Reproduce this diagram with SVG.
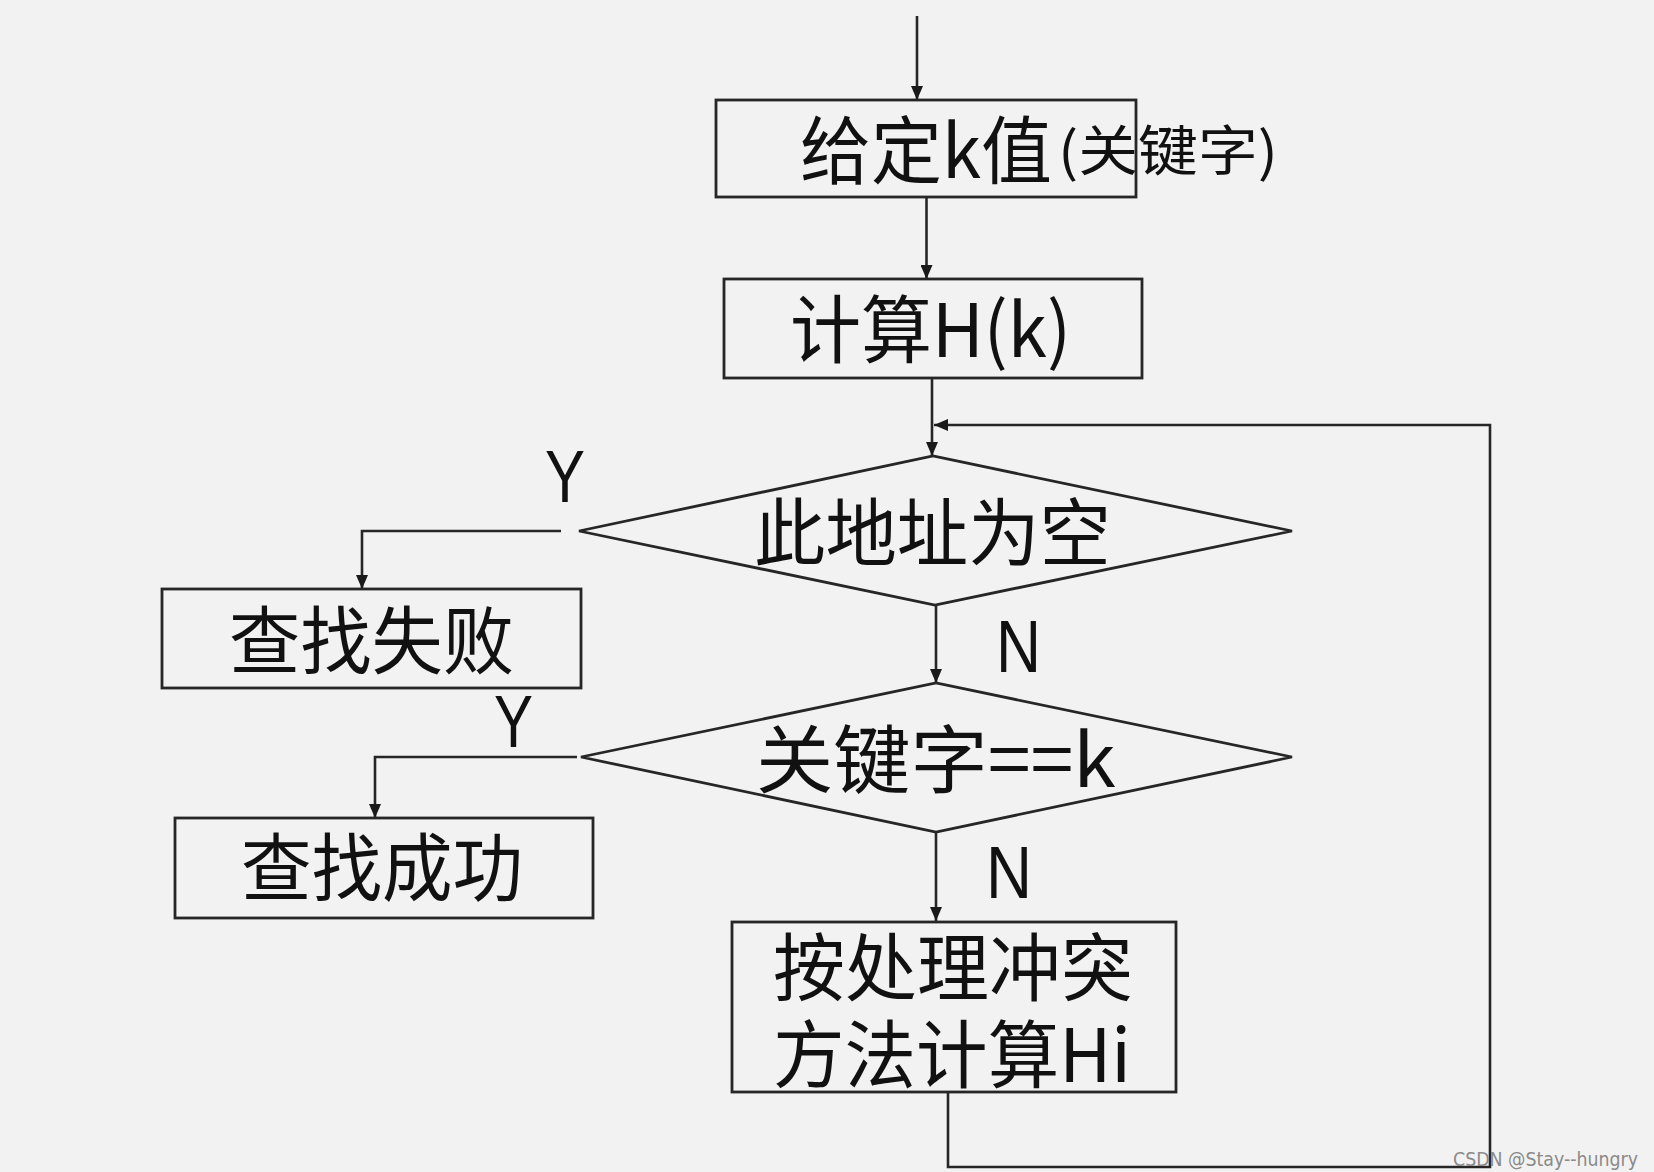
<svg xmlns="http://www.w3.org/2000/svg" width="1654" height="1172" viewBox="0 0 1654 1172">
  <style>
    .box { fill: none; stroke: #262626; stroke-width: 2.8; }
    .dia { fill: none; stroke: #262626; stroke-width: 2.8; stroke-linejoin: miter; }
    .wire { fill: none; stroke: #262626; stroke-width: 2.6; }
    .arr { marker-end: url(#head); }
    .cjk { font-family: "Noto Sans CJK SC", "Noto Sans", sans-serif; font-size: 74px; fill: #111; }
    .note { font-family: "Noto Sans CJK SC", sans-serif; font-size: 54px; fill: #111; }
    .yn { font-family: "Liberation Sans", Arial, sans-serif; font-size: 75px; fill: #111; }
    .mark { font-family: "DejaVu Sans", sans-serif; font-size: 19px; fill: #8a8a8a; }
  </style>
  <defs>
    <marker id="head" viewBox="0 0 14 12" refX="14" refY="6" markerWidth="14" markerHeight="12" markerUnits="userSpaceOnUse" orient="auto">
      <path d="M0,0 L14,6 L0,12 Z" fill="#1a1a1a"/>
    </marker>
  </defs>

  <rect width="1654" height="1172" fill="#f2f2f2"/>

  <!-- connectors -->
  <g id="connectors">
    <line class="wire arr" x1="917" y1="16" x2="917" y2="100"/>
    <line class="wire arr" x1="926.5" y1="197" x2="926.5" y2="279"/>
    <line class="wire arr" x1="932" y1="378" x2="932" y2="456"/>
    <polyline class="wire arr" points="948,1092 948,1167 1490,1167 1490,425 934,425"/>
    <polyline class="wire arr" points="561,531 362,531 362,589"/>
    <line class="wire arr" x1="936" y1="605" x2="936" y2="683"/>
    <polyline class="wire arr" points="577,757 375,757 375,818"/>
    <line class="wire arr" x1="936" y1="832" x2="936" y2="921"/>
  </g>

  <!-- branch labels -->
  <g id="labels">
    <text class="yn" x="545" y="502" textLength="40" lengthAdjust="spacingAndGlyphs">Y</text>
    <text class="yn" x="494" y="747" textLength="39" lengthAdjust="spacingAndGlyphs">Y</text>
    <text class="yn" x="996" y="672" textLength="45" lengthAdjust="spacingAndGlyphs">N</text>
    <text class="yn" x="986" y="898" textLength="46" lengthAdjust="spacingAndGlyphs">N</text>
  </g>

  <g id="n-input">
    <rect class="box" x="716" y="100" width="420" height="97"/>
    <text class="cjk" x="800" y="178" textLength="252" lengthAdjust="spacingAndGlyphs">给定k值</text>
    <text class="note" x="1058" y="171" textLength="220" lengthAdjust="spacingAndGlyphs">(关键字)</text>
  </g>

  <g id="n-hash">
    <rect class="box" x="724" y="279" width="418" height="99"/>
    <text class="cjk" x="790" y="357" textLength="281" lengthAdjust="spacingAndGlyphs">计算H(k)</text>
  </g>

  <g id="n-empty">
    <polygon class="dia" points="579,531 933,456 1292,531 935,605"/>
    <text class="cjk" x="754" y="560" textLength="357" lengthAdjust="spacingAndGlyphs">此地址为空</text>
  </g>

  <g id="n-fail">
    <rect class="box" x="162" y="589" width="419" height="99"/>
    <text class="cjk" x="229" y="668" textLength="285" lengthAdjust="spacingAndGlyphs">查找失败</text>
  </g>

  <g id="n-match">
    <polygon class="dia" points="581,757 936,683 1292,757 936,832"/>
    <text class="cjk" x="756" y="787" textLength="360" lengthAdjust="spacingAndGlyphs">关键字==k</text>
  </g>

  <g id="n-success">
    <rect class="box" x="175" y="818" width="418" height="100"/>
    <text class="cjk" x="241" y="895" textLength="282" lengthAdjust="spacingAndGlyphs">查找成功</text>
  </g>

  <g id="n-rehash">
    <rect class="box" x="732" y="922" width="444" height="170"/>
    <text class="cjk" x="773" y="995" textLength="360" lengthAdjust="spacingAndGlyphs">按处理冲突</text>
    <text class="cjk" x="773" y="1082" textLength="358" lengthAdjust="spacingAndGlyphs">方法计算Hi</text>
  </g>

  <text class="mark" x="1453" y="1166" textLength="185" lengthAdjust="spacingAndGlyphs">CSDN @Stay--hungry</text>
</svg>
